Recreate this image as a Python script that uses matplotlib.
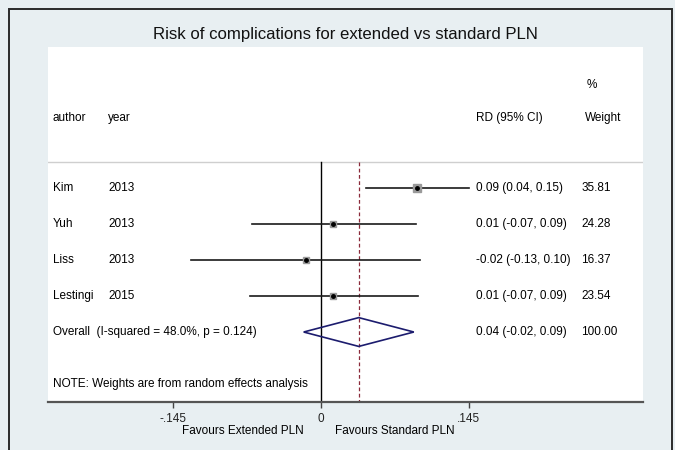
import matplotlib
matplotlib.use("Agg")
import matplotlib.pyplot as plt
from matplotlib.patches import Polygon, Rectangle
from matplotlib.transforms import blended_transform_factory
import numpy as np

plt.rcParams['font.family'] = ['Liberation Sans', 'DejaVu Sans']

title = "Risk of complications for extended vs standard PLN"
authors = ["Kim", "Yuh", "Liss", "Lestingi"]
years = ["2013", "2013", "2013", "2015"]
rd = [0.094, 0.012, -0.015, 0.012]
ci_low = [0.044, -0.068, -0.127, -0.070]
ci_high = [0.145, 0.093, 0.097, 0.095]
weights = [35.81, 24.28, 16.37, 23.54]
rd_labels = ["0.09 (0.04, 0.15)", "0.01 (-0.07, 0.09)",
             "-0.02 (-0.13, 0.10)", "0.01 (-0.07, 0.09)"]
weight_labels = ["35.81", "24.28", "16.37", "23.54"]
overall_rd, overall_low, overall_high = 0.037, -0.017, 0.091
overall_text = "Overall  (I-squared = 48.0%, p = 0.124)"
overall_label = "0.04 (-0.02, 0.09)"
overall_weight = "100.00"
xticks = [-0.145, 0.0, 0.145]
xtick_labels = ["-.145", "0", ".145"]
note = "NOTE: Weights are from random effects analysis"
left_label = "Favours Extended PLN"
right_label = "Favours Standard PLN"

W, H = 675, 450
fig = plt.figure(figsize=(6.75, 4.5), dpi=100)
bg = "#e8eff2"
fig.patch.set_facecolor(bg)

# outer frame
fig.patches.append(Rectangle((9 / W, -0.05), (672 - 9) / W, 1.05 - 9 / H,
                             transform=fig.transFigure, fill=False,
                             edgecolor="#2a2a2a", linewidth=1.4))

ax = fig.add_axes([48 / W, (H - 402) / H, (643 - 48) / W, (402 - 47) / H])
ax.set_facecolor("white")
for s in ["left", "right", "top"]:
    ax.spines[s].set_visible(False)
ax.spines["bottom"].set_color("#555555")
ax.spines["bottom"].set_linewidth(1.6)

x_left = (48 - 321) / 1020
x_right = (643 - 321) / 1020
ax.set_xlim(x_left, x_right)
ax.set_ylim(5.944, -3.917)
ax.set_yticks([])
ax.set_xticks(xticks)
fs = 8.5
ax.set_xticklabels(xtick_labels, fontsize=fs, color="#222222")
ax.tick_params(axis="x", direction="out", length=4, width=1, color="#444444", pad=4)

tr = blended_transform_factory(ax.transAxes, ax.transData)
x_author, x_year, x_rd, x_w = 0.0084, 0.1008, 0.7193, 0.896

# header
ax.text(0.906, -2.861, "%", transform=tr, fontsize=fs, va="center", ha="left")
ax.text(x_author, -1.944, "author", transform=tr, fontsize=fs, va="center")
ax.text(x_year, -1.944, "year", transform=tr, fontsize=fs, va="center")
ax.text(x_rd, -1.944, "RD (95% CI)", transform=tr, fontsize=fs, va="center")
ax.text(0.9025, -1.944, "Weight", transform=tr, fontsize=fs, va="center")

# separator line
ax.plot([0, 0.998], [-0.722, -0.722], transform=tr, color="#cfcfcf", lw=1.0)

# zero line and overall dashed line
ax.plot([0, 0], [-0.722, 5.944], color="black", lw=1.0, zorder=2)
ax.plot([overall_rd, overall_rd], [-0.722, 5.944], color="#8b2a3a",
        lw=0.9, ls=(0, (3, 2)), zorder=2)

for i in range(len(authors)):
    ax.plot([ci_low[i], ci_high[i]], [i, i], color="#1a1a1a", lw=1.2, zorder=3)
    size = 7.5 * np.sqrt(weights[i] / max(weights))
    ax.plot(rd[i], i, marker="s", ms=size * 0.72, color="#9a9a9a",
            mec="#9a9a9a", zorder=4)
    ax.plot(rd[i], i, marker="o", ms=2.5, color="black", zorder=5)
    ax.text(x_author, i, authors[i], transform=tr, fontsize=fs, va="center")
    ax.text(x_year, i, years[i], transform=tr, fontsize=fs, va="center")
    ax.text(x_rd, i, rd_labels[i], transform=tr, fontsize=fs, va="center")
    ax.text(x_w, i, weight_labels[i], transform=tr, fontsize=fs, va="center")

yo = len(authors)
dh = 0.4
diamond = Polygon([[overall_low, yo], [overall_rd, yo - dh],
                   [overall_high, yo], [overall_rd, yo + dh]],
                  closed=True, fill=False, edgecolor="#1c1c6e", lw=1.2, zorder=5)
ax.add_patch(diamond)
ax.text(x_author, yo, overall_text, transform=tr, fontsize=fs, va="center")
ax.text(x_rd, yo, overall_label, transform=tr, fontsize=fs, va="center")
ax.text(x_w, yo, overall_weight, transform=tr, fontsize=fs, va="center")

ax.text(x_author, 5.444, note, transform=tr, fontsize=fs, va="center")

# favours labels
trx = blended_transform_factory(ax.transData, ax.transAxes)
ax.text(-0.0165, -0.082, left_label, transform=trx, fontsize=fs,
        ha="right", va="center", clip_on=False)
ax.text(0.0135, -0.082, right_label, transform=trx, fontsize=fs,
        ha="left", va="center", clip_on=False)

fig.text(345.5 / W, 1 - 35 / H, title, fontsize=12.1, ha="center", va="center",
         color="#111111")

fig.savefig("out.png", dpi=100, facecolor=bg)
